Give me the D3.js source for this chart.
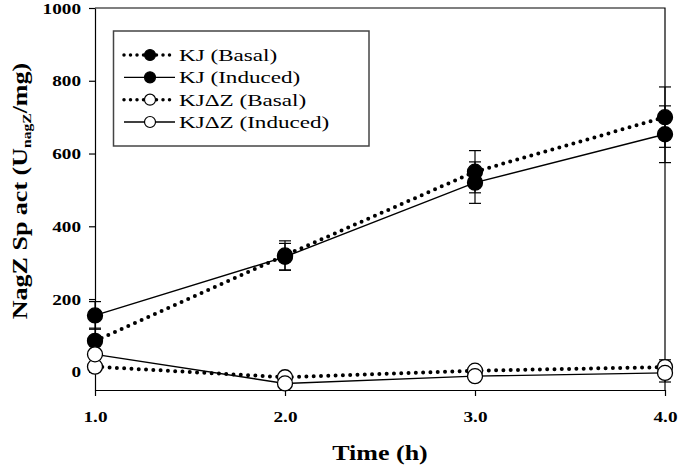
<!DOCTYPE html>
<html>
<head>
<meta charset="utf-8">
<script src="https://cdn.jsdelivr.net/npm/d3@7"></script>
<style>
  html, body { margin: 0; padding: 0; background: #fff; }
  svg { display: block; }
  text { font-family: "Liberation Serif", "Times New Roman", serif; fill: #000; }
</style>
</head>
<body>
<svg id="chart" width="680" height="468"></svg>
<script>
// ---- data ----
const times = [1, 2, 3, 4];
const kjBasal = [85, 320, 550, 700];
const kjBasalErr = [35, 40, 58, 83];
const kjInduced = [155, 316, 520, 653];
const kjInducedErr = [38, 37, 57, 78];
const dzBasal = [14, -15, 3, 13];
const dzBasalErr = [10, 8, 8, 20];
const dzInduced = [48, -32, -12, -3];
const dzInducedErr = [8, 8, 8, 25];
const seriesNames = ["KJ (Basal)", "KJ (Induced)", "KJ\u0394Z (Basal)", "KJ\u0394Z (Induced)"];
const xTicks = [1, 2, 3, 4];
const yTicks = [0, 200, 400, 600, 800, 1000];
const xTitle = "Time (h)";

const series = [
  { name: seriesNames[0], values: kjBasal, err: kjBasalErr, dotted: true, filled: true },
  { name: seriesNames[1], values: kjInduced, err: kjInducedErr, dotted: false, filled: true },
  { name: seriesNames[2], values: dzBasal, err: dzBasalErr, dotted: true, filled: false },
  { name: seriesNames[3], values: dzInduced, err: dzInducedErr, dotted: false, filled: false }
];

const svg = d3.select("#chart");
const x = d3.scaleLinear().domain([1, 4]).range([95, 665]);
const y = d3.scaleLinear().domain([-50, 1000]).range([390, 8]);
const TS = 1.28; // horizontal text stretch

// frame (top & right)
svg.append("path")
  .attr("d", `M${x(1)},${y(1000)}H${x(4)}V${y(-50)}`)
  .attr("fill", "none").attr("stroke", "#000").attr("stroke-width", 1.2);

// axes
const yAxis = svg.append("g").attr("transform", `translate(${x(1)},0)`)
  .call(d3.axisLeft(y).tickValues(yTicks).tickSize(6).tickSizeOuter(0).tickFormat(d3.format("d")));
const xAxis = svg.append("g").attr("transform", `translate(0,${y(-50)})`)
  .call(d3.axisBottom(x).tickValues(xTicks).tickSize(6).tickSizeOuter(0).tickFormat(d3.format(".1f")));
[yAxis, xAxis].forEach(a => {
  a.select(".domain").attr("stroke", "#000").attr("stroke-width", 1.2);
  a.selectAll(".tick line").attr("stroke", "#000").attr("stroke-width", 1.2);
  a.selectAll(".tick text")
    .style("font-family", '"Liberation Serif", serif')
    .style("font-weight", "bold").style("font-size", "15px").attr("fill", "#000");
});
yAxis.selectAll(".tick text").attr("x", null).attr("dy", "0.34em")
  .attr("transform", `translate(-14,0) scale(${TS},1)`).attr("text-anchor", "end");
xAxis.selectAll(".tick text").attr("y", null).attr("dy", null)
  .attr("transform", `translate(0,32) scale(${TS},1)`).attr("text-anchor", "middle");

// titles
const xt = svg.append("g").attr("transform", `translate(${(x(1) + x(4)) / 2},460) scale(1.3,1)`);
xt.append("text").attr("text-anchor", "middle")
  .style("font-weight", "bold").style("font-size", "20px").text(xTitle);

const yt = svg.append("g").attr("transform", `translate(27,191) rotate(-90) scale(1.3,1)`);
const ytt = yt.append("text").attr("text-anchor", "middle")
  .style("font-weight", "bold").style("font-size", "20px");
ytt.append("tspan").text("NagZ Sp act (U");
ytt.append("tspan").attr("dy", 4).style("font-size", "12px").text("nagZ");
ytt.append("tspan").attr("dy", -4).text("/mg)");

// lines
const line = d3.line().x((d, i) => x(times[i])).y(d => y(d));
const plot = svg.append("g");
series.forEach(s => {
  plot.append("path").datum(s.values).attr("d", line)
    .attr("fill", "none").attr("stroke", "#000")
    .attr("stroke-width", s.dotted ? 4 : 1.4)
    .attr("stroke-linecap", s.dotted ? "round" : "butt")
    .attr("stroke-dasharray", s.dotted ? "0 7.3" : null);
});
// error bars
series.forEach(s => {
  s.values.forEach((v, i) => {
    const cx = x(times[i]);
    const g = plot.append("g").attr("stroke", "#000").attr("stroke-width", 1.2);
    g.append("line").attr("x1", cx).attr("x2", cx).attr("y1", y(v - s.err[i])).attr("y2", y(v + s.err[i]));
    [v - s.err[i], v + s.err[i]].forEach(e => {
      g.append("line").attr("x1", cx - 6).attr("x2", cx + 6).attr("y1", y(e)).attr("y2", y(e));
    });
  });
});
// markers
series.forEach(s => {
  plot.selectAll(null).data(s.values).enter().append("circle")
    .attr("cx", (d, i) => x(times[i])).attr("cy", d => y(d)).attr("r", 7.5)
    .attr("fill", s.filled ? "#000" : "#fff").attr("stroke", "#000").attr("stroke-width", 1.3);
});

// legend
const lg = svg.append("g");
lg.append("rect").attr("x", 113.5).attr("y", 31).attr("width", 255.5).attr("height", 115)
  .attr("fill", "#fff").attr("stroke", "#444").attr("stroke-width", 1.5);
const rowY = d3.scaleLinear().domain([0, 3]).range([55, 122]);
series.forEach((s, i) => {
  const yy = rowY(i);
  lg.append("line").attr("x1", 124).attr("x2", 175).attr("y1", yy).attr("y2", yy)
    .attr("stroke", "#000")
    .attr("stroke-width", s.dotted ? 3.5 : 1.4)
    .attr("stroke-linecap", s.dotted ? "round" : "butt")
    .attr("stroke-dasharray", s.dotted ? "0 6.5" : null);
  lg.append("circle").attr("cx", 150).attr("cy", yy).attr("r", 5.5)
    .attr("fill", s.filled ? "#000" : "#fff").attr("stroke", "#000").attr("stroke-width", 1.2);
  lg.append("g").attr("transform", `translate(179,${yy + 6}) scale(1.36,1)`)
    .append("text").style("font-size", "17px").text(s.name);
});
</script>
</body>
</html>
